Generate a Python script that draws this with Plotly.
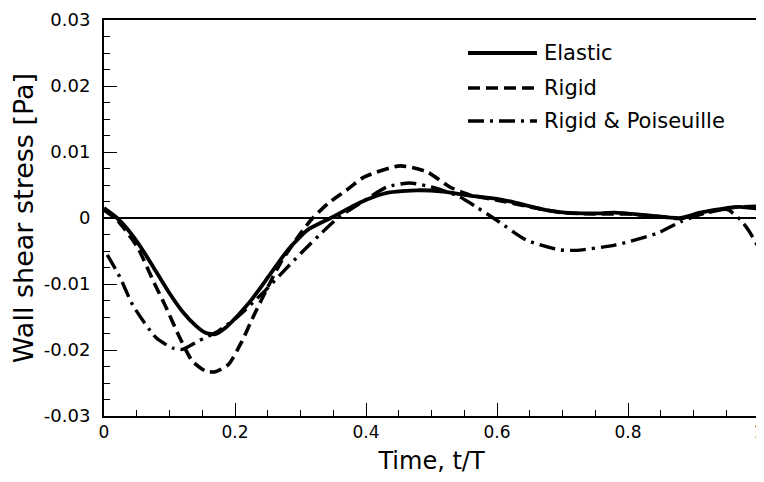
import plotly.graph_objects as go

# ---- data ----
elastic_t = [0.0, 0.02, 0.04, 0.06, 0.08, 0.10, 0.12, 0.14, 0.155, 0.17, 0.186, 0.205, 0.225,
             0.251, 0.281, 0.311, 0.346, 0.392, 0.432, 0.478, 0.518, 0.558, 0.6, 0.629, 0.67,
             0.704, 0.75, 0.78, 0.83, 0.88, 0.91, 0.93, 0.97, 1.0]
elastic_w = [0.0015, 0.0, -0.0022, -0.0050, -0.0082, -0.0114, -0.0142, -0.0163, -0.0174, -0.0176,
             -0.0166, -0.0147, -0.0124, -0.0089, -0.0048, -0.0018, 0.0, 0.0024, 0.0038, 0.0042,
             0.0040, 0.0034, 0.0029, 0.0023, 0.0013, 0.0008, 0.0007, 0.0008, 0.0004, 0.0, 0.0008,
             0.0012, 0.0017, 0.0014]

rigid_t = [0.0, 0.02, 0.051, 0.075, 0.095, 0.115, 0.135, 0.155, 0.17, 0.19, 0.21, 0.23, 0.25,
           0.27, 0.296, 0.316, 0.342, 0.37, 0.397, 0.452, 0.493, 0.528, 0.558, 0.6, 0.65, 0.7,
           0.75, 0.8, 0.85, 0.88, 0.92, 0.96, 1.0]
rigid_w = [0.0012, -0.0003, -0.0044, -0.0095, -0.0136, -0.018, -0.0217, -0.0232, -0.0233, -0.0222,
           -0.0188, -0.0145, -0.0105, -0.0067, -0.0029, -0.0003, 0.0022, 0.0042, 0.0062, 0.0079,
           0.007, 0.0047, 0.0035, 0.0027, 0.0017, 0.0008, 0.0006, 0.0006, 0.0002, -0.0001, 0.0008,
           0.0016, 0.0018]

poise_t = [0.005, 0.024, 0.044, 0.08, 0.105, 0.12, 0.145, 0.175, 0.206, 0.246, 0.27, 0.301, 0.337,
           0.357, 0.392, 0.432, 0.467, 0.508, 0.543, 0.568, 0.599, 0.644, 0.694, 0.72, 0.78, 0.845,
           0.88, 0.916, 0.951, 0.972, 0.985, 1.0]
poise_w = [-0.0056, -0.0089, -0.0132, -0.0182, -0.0197, -0.0199, -0.0186, -0.0171, -0.0148, -0.011,
           -0.0085, -0.0053, -0.0018, 0.0, 0.0023, 0.0047, 0.0053, 0.0045, 0.0032, 0.0017, -0.0003,
           -0.0033, -0.0048, -0.0049, -0.0041, -0.0023, -0.0006, 0.0007, 0.0013, -0.0003, -0.002,
           -0.0046]

series_names = ["Elastic", "Rigid", "Rigid & Poiseuille"]

x_tickvals = [0, 0.2, 0.4, 0.6, 0.8, 1.0]
x_ticktext = ["0", "0.2", "0.4", "0.6", "0.8", "1"]
y_tickvals = [-0.03, -0.02, -0.01, 0, 0.01, 0.02, 0.03]
y_ticktext = ["-0.03", "-0.02", "-0.01", "0", "0.01", "0.02", "0.03"]

FONT = "DejaVu Sans"
dashes = ["solid", "12px,6px", "16px,6px,3px,6px"]
widths = [3.8, 3.6, 3.4]

fig = go.Figure()
for name, t, w, d, lw in zip(series_names, [elastic_t, rigid_t, poise_t],
                             [elastic_w, rigid_w, poise_w], dashes, widths):
    fig.add_trace(go.Scatter(x=t, y=w, mode="lines", name=name, showlegend=False,
                             line=dict(color="black", width=lw, dash=d, shape="spline", smoothing=0.6)))

# custom legend (long line samples as in the reference)
leg_y = [0.9167, 0.8283, 0.745]
for name, d, lw, yy in zip(series_names, dashes, widths, leg_y):
    fig.add_shape(type="line", xref="paper", yref="paper", x0=0.5557, x1=0.661, y0=yy, y1=yy,
                  line=dict(color="black", width=lw, dash=d))
    fig.add_annotation(text=name, xref="paper", yref="paper", x=0.668, y=yy, xanchor="left",
                       yanchor="middle", showarrow=False, font=dict(family=FONT, size=21, color="black"))

# the page body adds an 8px margin, so the figure is sized to fit the 764x482 window
fig.update_layout(
    width=756, height=474,
    margin=dict(l=96, r=5, t=12, b=66),
    paper_bgcolor="white", plot_bgcolor="white",
    font=dict(family=FONT, color="black"),
)
fig.update_xaxes(
    range=[0, 1.0], showgrid=False, zeroline=False, automargin=False,
    showline=True, linecolor="black", linewidth=2, mirror=True,
    ticks="inside", ticklen=13, tickwidth=1, tickcolor="black",
    tickvals=x_tickvals, ticktext=x_ticktext, ticklabeloverflow="allow",
    tickfont=dict(family=FONT, size=17, color="black"),
    minor=dict(ticks="inside", ticklen=6, tickwidth=1, tickcolor="black", dtick=0.05, showgrid=False),
    title=dict(text="Time, t/T", font=dict(family=FONT, size=24, color="black"), standoff=11),
)
fig.update_yaxes(
    range=[-0.03, 0.03], showgrid=False, automargin=False,
    zeroline=True, zerolinecolor="black", zerolinewidth=1.5,
    showline=True, linecolor="black", linewidth=2, mirror=False,
    ticks="inside", ticklen=13, tickwidth=1, tickcolor="black",
    tickvals=y_tickvals, ticktext=y_ticktext,
    ticklabelstandoff=8,
    tickfont=dict(family=FONT, size=18, color="black"),
    minor=dict(ticks="inside", ticklen=6, tickwidth=1, tickcolor="black", dtick=0.0025, showgrid=False),
    title=dict(text="Wall shear stress [Pa]", font=dict(family=FONT, size=27, color="black"), standoff=4),
)

fig.write_html("out.html")
